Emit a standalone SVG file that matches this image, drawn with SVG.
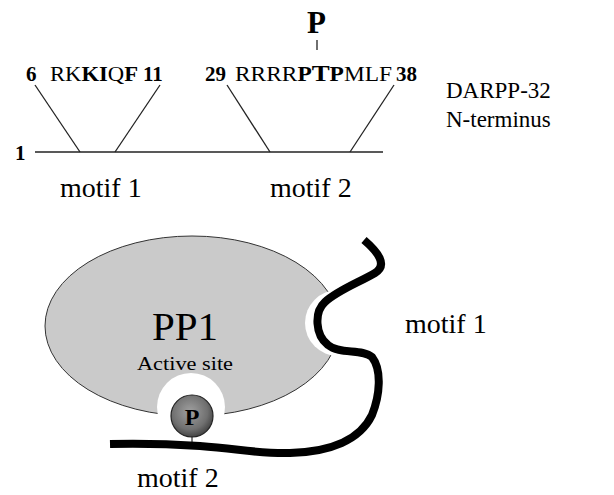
<svg xmlns="http://www.w3.org/2000/svg" width="614" height="495" viewBox="0 0 614 495">
<style>
text{font-family:"Liberation Serif","Times New Roman",Tinos,"DejaVu Serif","Noto Serif",serif;fill:#000}
.b{font-weight:bold}
.seq{font-size:20px}
.num{font-size:21px;font-weight:bold}
.lbl{font-size:28px}
.ln{stroke:#222;stroke-width:1.3;fill:none}
</style>
<defs>
<radialGradient id="ball" cx="0.45" cy="0.4" r="0.6">
<stop offset="0" stop-color="#a0a0a0"/>
<stop offset="0.7" stop-color="#707070"/>
<stop offset="1" stop-color="#454545"/>
</radialGradient>
</defs>
<rect width="614" height="495" fill="#fff"/>
<g id="connectors">
<line class="ln" x1="35" y1="152" x2="383" y2="152"/>
<line class="ln" x1="35" y1="85" x2="80" y2="152"/>
<line class="ln" x1="160" y1="85" x2="115" y2="152"/>
<line class="ln" x1="227" y1="85" x2="270" y2="152"/>
<line class="ln" x1="394" y1="85" x2="350" y2="152"/>
<line class="ln" x1="317" y1="40" x2="317" y2="50"/>
</g>
<g id="phospho-top"><text class="b" x="307" y="33" font-size="31">P</text></g>
<g id="motif1-seq">
<text class="num" x="26" y="81">6</text>
<text class="seq" x="50" y="81" textLength="88" lengthAdjust="spacingAndGlyphs">R<tspan>K</tspan><tspan class="b">K</tspan><tspan class="b">I</tspan><tspan>Q</tspan><tspan class="b">F</tspan></text>
<text class="num" x="143" y="81">11</text>
</g>
<g id="motif2-seq">
<text class="num" x="205" y="81">29</text>
<text class="seq" x="235" y="81" textLength="157" lengthAdjust="spacingAndGlyphs">RRRR<tspan class="b">P</tspan><tspan class="b" font-size="23">T</tspan><tspan class="b">P</tspan>MLF</text>
<text class="num" x="396" y="81">38</text>
</g>
<g id="start"><text class="num" x="15" y="160">1</text></g>
<g id="title"><text x="446" y="98" font-size="23">DARPP-32</text><text x="446" y="127" font-size="23">N-terminus</text></g>
<g id="motif1-label"><text class="lbl" x="60" y="197">motif 1</text></g>
<g id="motif2-label"><text class="lbl" x="270" y="197">motif 2</text></g>
<g id="pp1">
<ellipse cx="192" cy="326" rx="147" ry="90" fill="#cacaca" stroke="#333" stroke-width="1"/>
<circle cx="191" cy="407" r="34" fill="#fff"/>
<circle cx="338" cy="323" r="33" fill="#fff"/>
<text x="152" y="340" font-size="41">PP1</text>
<text x="137" y="370" font-size="18" fill="#333" textLength="96" lengthAdjust="spacingAndGlyphs">Active site</text>
</g>
<g id="darpp-chain">
<path d="M110,444 C150,443 170,444 200,446 C240,449 260,454 290,453 C330,452 360,440 372,415 C380,395 382,370 372,357 C362,348 340,355 328,345 C315,335 314,312 325,302 C338,290 360,282 375,273 C388,265 378,252 364,240" fill="none" stroke="#000" stroke-width="8" stroke-linejoin="round"/>
</g>
<g id="phosphate">
<line x1="192" y1="436" x2="192" y2="446" stroke="#000" stroke-width="1"/>
<circle cx="192" cy="416" r="21" fill="url(#ball)" stroke="#222" stroke-width="1.2"/>
<text class="b" x="192" y="425" font-size="24" text-anchor="middle">P</text>
</g>
<g id="motif1-right"><text class="lbl" x="405" y="333">motif 1</text></g>
<g id="motif2-bottom"><text class="lbl" x="137" y="487">motif 2</text></g>
</svg>
